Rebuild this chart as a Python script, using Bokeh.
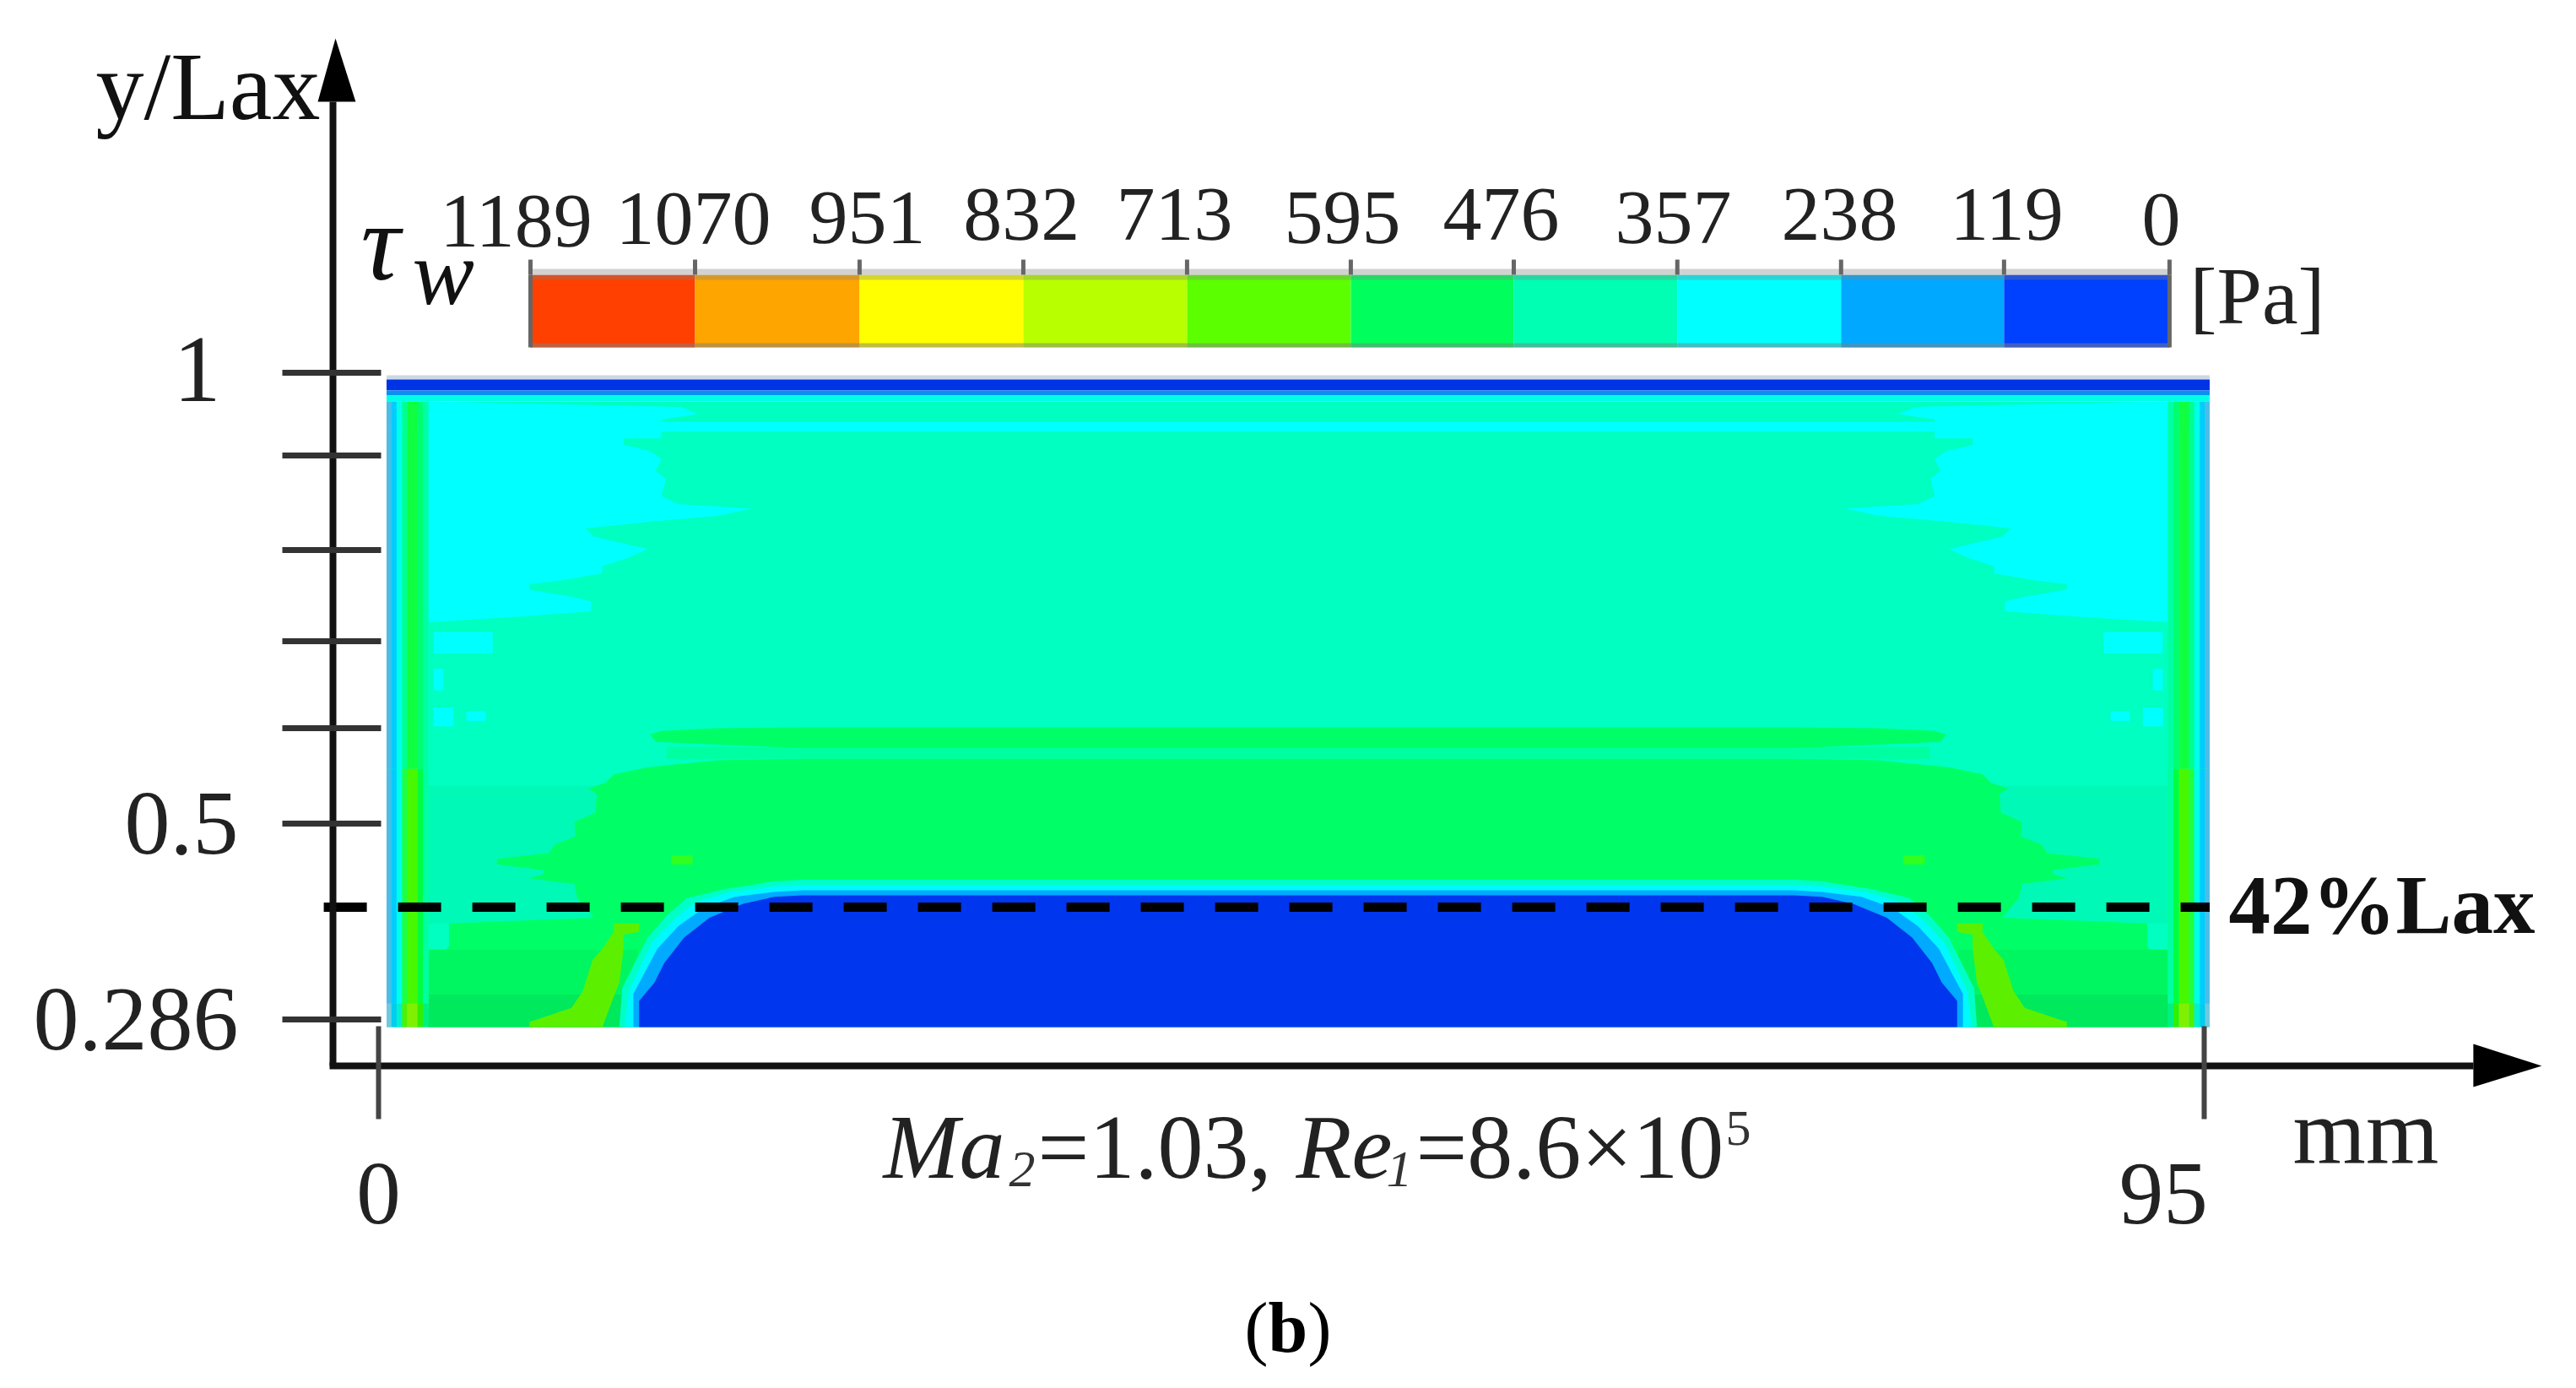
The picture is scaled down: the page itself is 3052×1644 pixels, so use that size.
from bokeh.embed import file_html
from bokeh.resources import INLINE
from bokeh.plotting import figure
from bokeh.models import Range1d, LinearAxis, FixedTicker
from bokeh.core.properties import value

SERIF = "Liberation Serif"
SPAN_MIRROR = 95.70
Y_BOTTOM = 0.2739
X_LEFT, X_RIGHT = 0.417, 95.28

# ---- colour bar ----
cbar_labels = ["1189", "1070", "951", "832", "713", "595", "476", "357", "238", "119", "0"]
cbar_edges = [7.905, 16.47, 25.03, 33.55, 42.07, 50.59, 59.07, 67.58, 76.10, 84.58, 93.19]
cbar_colors = ["#ff4000", "#ffa500", "#ffff00", "#b8ff00", "#5cff00", "#00ff5c", "#00ffb3", "#00ffff", "#00a8ff", "#0040ff"]
cbar_label_x = [7.16, 16.38, 25.43, 33.46, 41.41, 50.15, 58.41, 67.37, 76.02, 84.72, 92.75]
cbar_label_y = [1.1379, 1.1407, 1.1417, 1.1454, 1.1454, 1.1417, 1.1454, 1.1417, 1.1454, 1.1454, 1.1398]

# ---- axes ----
y_ticks = [1.001, 0.909, 0.804, 0.703, 0.606, 0.5, 0.2824]
y_labels = {1.001: "", 0.909: "", 0.804: "", 0.703: "", 0.606: "", 0.5: "0.5", 0.2824: "0.286"}
x_ticks = [0, 95]
x_labels = {0: "0", 95: ""}

# ---- wall shear stress field (half outlines, mirrored about the span centre) ----
cyan_x = [2.58, 15.75, 16.63, 14.73, 14.73, 12.75, 12.75, 14.14, 14.73, 14.43, 14.95, 14.73, 15.6, 19.41, 17.65, 14.43, 10.77, 11.21, 14.0, 12.97, 11.65, 11.65, 9.46, 7.85, 7.85, 10.04, 11.07, 11.07, 7.41, 2.87, 2.58]
cyan_y = [0.969, 0.963, 0.955, 0.949, 0.928, 0.928, 0.921, 0.914, 0.905, 0.892, 0.883, 0.864, 0.855, 0.850, 0.842, 0.836, 0.828, 0.819, 0.805, 0.795, 0.786, 0.778, 0.770, 0.766, 0.760, 0.752, 0.747, 0.736, 0.730, 0.724, 0.724]
cyan_spots_left = [2.87, 2.87, 2.85, 4.57]
cyan_spots_right = [5.94, 3.38, 3.9, 5.58]
cyan_spots_top = [0.713, 0.672, 0.629, 0.625]
cyan_spots_bottom = [0.689, 0.648, 0.608, 0.614]

streak_x = [47.85, 22.05, 17.65, 14.73, 14.14, 14.43, 16.19, 22.05, 47.85]
streak_y = [0.607, 0.607, 0.606, 0.603, 0.599, 0.591, 0.589, 0.584, 0.584]

green_x = [47.85, 22.05, 17.65, 14.0, 12.24, 11.8, 10.92, 11.36, 11.29, 10.19, 10.26, 9.16, 8.87, 6.16, 6.16, 8.58, 8.58, 7.85, 10.19, 10.34, 11.21, 3.67, 3.67, 3.16, 2.58, 2.58, 47.85]
green_y = [0.5719, 0.5719, 0.5704, 0.5625, 0.5547, 0.5453, 0.5391, 0.5328, 0.5125, 0.5016, 0.4859, 0.4765, 0.4672, 0.4609, 0.4547, 0.4484, 0.4437, 0.4390, 0.4328, 0.4171, 0.3953, 0.3890, 0.3640, 0.3499, 0.3499, Y_BOTTOM, Y_BOTTOM]

lime_x = [12.24, 13.56, 13.56, 12.75, 12.75, 12.53, 12.24, 11.65, 7.85, 7.85, 10.04, 10.63, 11.14, 11.65, 12.24]
lime_y = [0.3890, 0.3890, 0.3796, 0.3765, 0.3609, 0.3233, 0.3077, Y_BOTTOM, Y_BOTTOM, 0.2796, 0.2952, 0.3140, 0.3483, 0.3609, 0.3796]

halo_teal_x = [47.85, 22.05, 20.58, 17.95, 16.04, 15.02, 14.0, 13.19, 12.68, 12.53, 47.85]
halo_teal_y = [0.4375, 0.4375, 0.4359, 0.4271, 0.4171, 0.3984, 0.3734, 0.3390, 0.3171, Y_BOTTOM, Y_BOTTOM]
halo_cyan_x = [47.85, 22.05, 20.58, 18.24, 16.48, 15.31, 14.21, 13.48, 13.04, 12.82, 47.85]
halo_cyan_y = [0.4312, 0.4312, 0.4303, 0.4234, 0.4124, 0.3921, 0.3671, 0.3343, 0.3140, Y_BOTTOM, Y_BOTTOM]
halo_blue_x = [47.85, 22.05, 20.58, 18.53, 16.92, 15.6, 14.51, 13.77, 13.26, 13.26, 47.85]
halo_blue_y = [0.4259, 0.4259, 0.4240, 0.4187, 0.4062, 0.3859, 0.3609, 0.3312, 0.3108, Y_BOTTOM, Y_BOTTOM]
core_x = [47.85, 22.05, 20.58, 18.97, 17.22, 15.9, 14.87, 14.36, 13.56, 13.56, 47.85]
core_y = [0.4202, 0.4202, 0.4187, 0.4109, 0.3953, 0.3734, 0.3452, 0.3233, 0.3030, Y_BOTTOM, Y_BOTTOM]

wall_edges = [0.417, 0.67, 0.94, 1.23, 1.49, 2.03, 2.31, 2.6]
wall_tops = [0.969, 0.561, 0.30]
wall_bottoms = [0.561, 0.30, Y_BOTTOM]
wall_colors = [
    ["#4dbde8", "#00ccff", "#00ffea", "#00ff90", "#10ff40", "#00ff70", "#00ffa5"],
    ["#4dbde8", "#00ccff", "#00ffea", "#20ff40", "#48f800", "#00ff40", "#00ffa0"],
    ["#70c8e0", "#00ccf0", "#00f0d0", "#50f000", "#80f000", "#30f000", "#00f080"],
]

top_edges = [0.9981, 0.9934, 0.9812, 0.9756, 0.9690]
top_colors = ["#cdd8e6", "#0033e6", "#0a90f4", "#00ffe8"]

# ---- annotation positions ----
dash_y = 0.4071
dash_start = -2.85
x_axis_at = 0.2308
y_axis_at = -2.37

p = figure(width=3036, height=1628,
           x_range=Range1d(-19.675, 113.66), y_range=Range1d(-0.1126, 1.4146),
           output_backend="svg", toolbar_location=None,
           x_axis_location=None, y_axis_location=None, min_border=0)
p.grid.visible = False
p.outline_line_color = None
p.background_fill_color = "white"


def mirrored(xs, ys):
    return list(xs) + [SPAN_MIRROR - v for v in reversed(xs)], list(ys) + list(reversed(ys))


def both_sides(xs, ys, color):
    p.patch(xs, ys, fill_color=color, line_color=None)
    p.patch([SPAN_MIRROR - v for v in xs], ys, fill_color=color, line_color=None)


def rect(l, r, t, b, color, **kw):
    p.quad(left=l, right=r, top=t, bottom=b, fill_color=color, line_color=None, **kw)


def label(x, y, text, size, style="normal", align="left", color="#111111"):
    p.text(x=[x], y=[y], text=[text], text_font=value(SERIF), text_font_size=f"{size}px",
           text_font_style=style, text_align=align, text_baseline="alphabetic", text_color=color,
           y_offset=-0.36 * size)


# base band
rect(X_LEFT, X_RIGHT, 0.9690, Y_BOTTOM, "#00ffc0")
rect(2.6, SPAN_MIRROR - 2.6, 0.542, 0.389, "#00f9b6")

# cyan regions
both_sides(cyan_x, cyan_y, "#00ffff")
rect(X_LEFT, X_RIGHT, 0.9465, 0.9355, "#00ffff")
for l, r, t, b in zip(cyan_spots_left, cyan_spots_right, cyan_spots_top, cyan_spots_bottom):
    rect(l, r, t, b, "#00ffff")
    rect(SPAN_MIRROR - r, SPAN_MIRROR - l, t, b, "#00ffff")

# green bands
rect(15.0, SPAN_MIRROR - 15.0, 0.585, 0.5719, "#00ffa0")
p.patch(*mirrored(streak_x, streak_y), fill_color="#00ff66", line_color=None)
p.patch(*mirrored(green_x, green_y), fill_color="#00ff66", line_color=None)
for side_l, side_r in ((2.6, 13.5), (SPAN_MIRROR - 13.5, SPAN_MIRROR - 2.6)):
    rect(side_l, side_r, 0.36, 0.31, "#00f660")
    rect(side_l, side_r, 0.31, Y_BOTTOM, "#00e85c")
rect(15.24, 16.34, 0.4648, 0.4546, "#30ff20")
rect(SPAN_MIRROR - 16.34, SPAN_MIRROR - 15.24, 0.4648, 0.4546, "#30ff20")

# lime diagonals and separation bubble
both_sides(lime_x, lime_y, "#5cf000")
p.patch(*mirrored(halo_teal_x, halo_teal_y), fill_color="#00ffc8", line_color=None)
p.patch(*mirrored(halo_cyan_x, halo_cyan_y), fill_color="#00f8ff", line_color=None)
p.patch(*mirrored(halo_blue_x, halo_blue_y), fill_color="#00aaff", line_color=None)
p.patch(*mirrored(core_x, core_y), fill_color="#0036ee", line_color=None)

# side wall stripes
for t, b, cols in zip(wall_tops, wall_bottoms, wall_colors):
    for i, c in enumerate(cols):
        rect(wall_edges[i], wall_edges[i + 1], t, b, c)
        rect(SPAN_MIRROR - wall_edges[i + 1], SPAN_MIRROR - wall_edges[i], t, b, c)

# end wall strip at the top
for i, c in enumerate(top_colors):
    rect(X_LEFT, X_RIGHT, top_edges[i], top_edges[i + 1], c)

# colour bar
p.quad(left=cbar_edges[:-1], right=cbar_edges[1:], top=1.1098, bottom=1.0291,
       fill_color=cbar_colors, line_color=None)
rect(cbar_edges[0], cbar_edges[-1], 1.1163, 1.1098, "#d2d2d2")
rect(cbar_edges[0], cbar_edges[-1], 1.1098, 1.1041, "#808080", fill_alpha=0.32)
rect(cbar_edges[0], cbar_edges[-1], 1.0338, 1.0291, "#808080", fill_alpha=0.5)
p.segment(x0=cbar_edges, x1=cbar_edges, y0=1.1266, y1=1.1098, line_color="#666666", line_width=5)
p.segment(x0=[cbar_edges[0], cbar_edges[-1]], x1=[cbar_edges[0], cbar_edges[-1]],
          y0=1.1098, y1=1.0291, line_color="#666666", line_width=5)
for x, y, t in zip(cbar_label_x, cbar_label_y, cbar_labels):
    label(x, y, t, 92, align="center", color="#222222")

# axes
yax = LinearAxis(fixed_location=y_axis_at, ticker=FixedTicker(ticks=y_ticks),
                 major_label_overrides=y_labels, bounds=(x_axis_at, 1.3021),
                 major_tick_out=60, major_tick_in=57, minor_tick_out=0, minor_tick_in=0,
                 major_tick_line_width=7, major_tick_line_color="#333333",
                 axis_line_width=8, axis_line_color="#111111",
                 major_label_standoff=52, major_label_text_font=SERIF,
                 major_label_text_font_size="108px", major_label_text_color="#222222")
p.add_layout(yax, "left")
xax = LinearAxis(fixed_location=x_axis_at, ticker=FixedTicker(ticks=x_ticks),
                 major_label_overrides=x_labels, bounds=(-2.55, 109.0),
                 major_tick_out=63, major_tick_in=47, minor_tick_out=0, minor_tick_in=0,
                 major_tick_line_width=6, major_tick_line_color="#444444",
                 axis_line_width=8, axis_line_color="#111111",
                 major_label_standoff=54, major_label_text_font=SERIF,
                 major_label_text_font_size="105px", major_label_text_color="#222222")
p.add_layout(xax, "below")

# arrow heads
p.patch([-3.16, -2.24, -1.19], [1.3021, 1.3724, 1.3021], fill_color="black", line_color=None)
p.patch([109.0, 112.56, 109.0], [0.2552, 0.2308, 0.2073], fill_color="black", line_color=None)

# 42 % line
p.line([dash_start, X_RIGHT], [dash_y, dash_y], line_color="black", line_width=11,
       line_dash=[51, 37], line_cap="butt")

# texts
label(-14.71, 1.2805, "y/Lax", 114)
label(-0.92, 1.1023, "τ", 130, "italic")
label(1.76, 1.075, "w", 110, "italic")
label(-9.44, 0.9662, "1", 112, align="center", color="#222222")
label(92.88, 0.0535, "95", 105, align="center", color="#222222")
label(103.4, 0.121, "mm", 111, align="center", color="#222222")
label(96.27, 0.3762, "42%Lax", 99, "bold")
label(94.25, 1.0535, "[Pa]", 96, color="#222222")
label(26.26, 0.1041, "Ma", 108, "italic", color="#222222")
label(32.81, 0.0947, "2", 62, "italic", color="#333333")
label(34.30, 0.1041, "=1.03,", 108, color="#222222")
label(47.74, 0.1041, "Re", 108, "italic", color="#222222")
label(52.44, 0.0947, "1", 62, "italic", color="#333333")
label(53.97, 0.1041, "=8.6×10", 108, color="#222222")
label(70.09, 0.1407, "5", 60, color="#333333")
label(45.06, -0.0882, "(", 84, color="#000000")
label(46.29, -0.0882, "b", 84, "bold", color="#000000")
label(48.35, -0.0882, ")", 84, color="#000000")

open("out.html", "w").write(file_html(p, INLINE))
